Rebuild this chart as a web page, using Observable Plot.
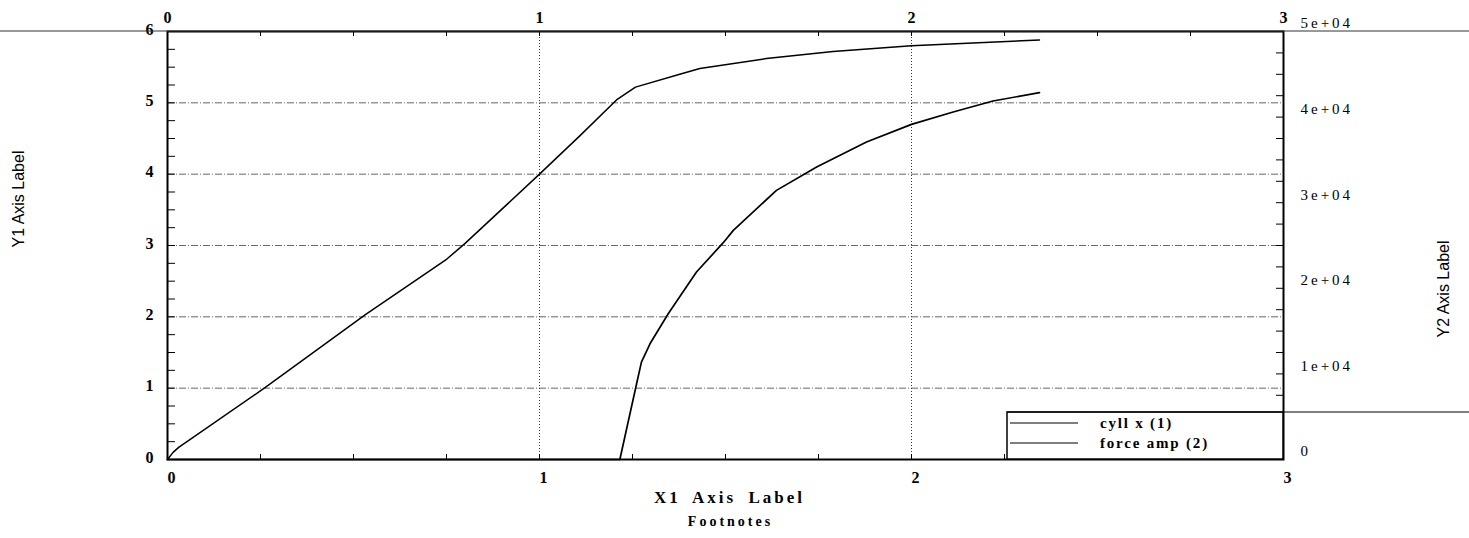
<!DOCTYPE html>
<html><head><meta charset="utf-8">
<script src="https://cdn.jsdelivr.net/npm/d3@7"></script>
<script src="https://cdn.jsdelivr.net/npm/@observablehq/plot@0.6"></script>
<style>body{margin:0;background:#fff;}</style>
</head><body><div id="chart"></div>
<script>
// ---- data ----
const cyllX = [0, 0.015, 0.03, 0.263, 0.532, 0.751, 0.80, 1.0, 1.109, 1.207, 1.258, 1.377, 1.431, 1.61, 1.789, 2.0, 2.165, 2.344];
const cyllY = [0, 0.10, 0.17, 1.01, 2.03, 2.81, 3.03, 4.0, 4.54, 5.04, 5.22, 5.40, 5.48, 5.62, 5.72, 5.80, 5.84, 5.88];
const forceX = [0, 1.216, 1.261, 1.274, 1.297, 1.346, 1.422, 1.494, 1.521, 1.637, 1.745, 1.879, 2.0, 2.112, 2.219, 2.344];
const forceY = [0, 0, 8850, 11370, 13520, 17030, 21900, 25330, 26770, 31440, 34160, 37090, 39150, 40590, 41880, 42860];
const xTicks = [0, 1, 2, 3];
const y1Ticks = [0, 1, 2, 3, 4, 5, 6];
const y2Ticks = [0, 10000, 20000, 30000, 40000, 50000];
const gridY = [1, 2, 3, 4, 5];
const gridX = [1, 2];
const minorX = d3.range(0, 3.001, 0.25);
const minorY1 = d3.range(0, 6.001, 0.25);
const minorY2 = d3.range(0, 50001, 2500);
const seriesNames = ["cyll x (1)", "force amp (2)"];
const Y1MAX = 6, Y2MAX = 50000;
const toY1 = v => v * Y1MAX / Y2MAX;

const cyll = cyllX.map((x, i) => ({x, y: cyllY[i]}));
const force = forceX.map((x, i) => ({x, y: forceY[i]}));

const W = 1469, H = 538;
const mL = 167, mR = 186, mT = 31, mB = 79;
const fW = W - mL - mR, fH = H - mT - mB;

function expFmt(v) {
  v = Math.round(v);
  if (v === 0) return "0";
  const [m, e] = v.toExponential().split("e");
  return m + "e" + e[0] + e.slice(1).padStart(2, "0");
}
const intFmt = d => String(Math.round(d));

const plot = Plot.plot({
  width: W, height: H,
  marginLeft: mL, marginRight: mR, marginTop: mT, marginBottom: mB,
  x: {domain: [0, 3]},
  y: {domain: [0, 6]},
  style: {fontFamily: "Liberation Serif", fontSize: "15px", fontWeight: "bold", color: "black", background: "white", overflow: "visible"},
  marks: [
    Plot.ruleY(gridY, {y: d => d, stroke: "#666", strokeWidth: 1, strokeDasharray: "7,2,1,2"}),
    Plot.ruleX(gridX, {x: d => d, stroke: "#333", strokeWidth: 1, strokeDasharray: "1,2"}),
    Plot.tickX(minorX, {x: d => d, insetTop: fH - 5, stroke: "black"}),
    Plot.tickX(minorX, {x: d => d, insetBottom: fH - 5, stroke: "black"}),
    Plot.tickY(minorY1, {y: d => d, insetRight: fW - 8, stroke: "black"}),
    Plot.tickY(minorY2, {y: d => toY1(d), insetLeft: fW - 7, stroke: "black"}),
    Plot.axisX(xTicks, {anchor: "bottom", tickSize: 0, tickPadding: 12, dx: 4, fontSize: 16, tickFormat: intFmt, label: null}),
    Plot.axisX(xTicks, {anchor: "top", tickSize: 0, tickPadding: 9, fontSize: 16, tickFormat: intFmt, label: null}),
    Plot.axisY(y1Ticks, {anchor: "left", tickSize: 0, tickPadding: 14, dy: -2, fontSize: 16, tickFormat: intFmt, label: null}),
    Plot.axisY(y2Ticks.map(toY1), {anchor: "right", tickSize: 0, tickPadding: 17, dy: -8, fontWeight: "normal", fontSize: 15,
      tickFormat: d => expFmt(d * Y2MAX / Y1MAX), label: null}),
    Plot.line(force, {x: "x", y: d => toY1(d.y), stroke: "black", strokeWidth: 1.7}),
    Plot.line(cyll, {x: "x", y: "y", stroke: "black", strokeWidth: 1.5}),
    Plot.frame({stroke: "black", strokeWidth: 2}),
    Plot.text(["Y1 Axis Label"], {frameAnchor: "left", dx: 18 - mL, dy: 2, rotate: -90, fontFamily: "Liberation Sans", fontWeight: "normal", fontSize: 16}),
    Plot.text(["Y2 Axis Label"], {frameAnchor: "right", dx: 1443 - (W - mR), dy: -5, rotate: -90, fontFamily: "Liberation Sans", fontWeight: "normal", fontSize: 16}),
    Plot.text(["X1 Axis Label"], {frameAnchor: "bottom", dx: 4, dy: 43, fontSize: 17}),
    Plot.text(["Footnotes"], {frameAnchor: "bottom", dx: 5, dy: 66, fontSize: 14})
  ]
});
document.getElementById("chart").append(plot);

const svgSel = d3.select(plot);
svgSel.selectAll("text").each(function() {
  const t = this.textContent;
  if (t.includes("e+")) this.style.letterSpacing = "3px";
  else if (t === "X1 Axis Label") { this.style.letterSpacing = "3px"; this.style.wordSpacing = "5px"; }
  else if (t === "Footnotes") this.style.letterSpacing = "3px";
});

// long top rule across the page
const sxScale = plot.scale("x"), syScale = plot.scale("y");
const frameTop = syScale.apply(6), frameBottom = syScale.apply(0), frameRight = sxScale.apply(3);
svgSel.append("line").attr("x1", 0).attr("x2", W).attr("y1", frameTop).attr("y2", frameTop)
  .attr("stroke", "#333").attr("stroke-width", 1);

// legend
const lg = svgSel.append("g").attr("text-anchor", "start");
const lx0 = frameRight - 276, ly0 = frameBottom - 47;
lg.append("rect").attr("x", lx0).attr("y", ly0).attr("width", frameRight - lx0).attr("height", frameBottom - ly0)
  .attr("fill", "white").attr("stroke", "black").attr("stroke-width", 1.5);
lg.append("line").attr("x1", lx0).attr("x2", W).attr("y1", ly0).attr("y2", ly0)
  .attr("stroke", "black").attr("stroke-width", 1.2);
seriesNames.forEach((name, i) => {
  const yy = ly0 + 11 + i * 20;
  lg.append("line").attr("x1", lx0 + 3).attr("x2", lx0 + 71).attr("y1", yy).attr("y2", yy)
    .attr("stroke", "black").attr("stroke-width", 1.2);
  lg.append("text").attr("x", lx0 + 93).attr("y", yy).attr("dy", "0.35em").attr("text-anchor", "start")
    .attr("font-family", "Liberation Serif").attr("font-weight", "bold").attr("font-size", 15)
    .style("letter-spacing", "1.8px").text(name);
});
</script>
</body></html>
